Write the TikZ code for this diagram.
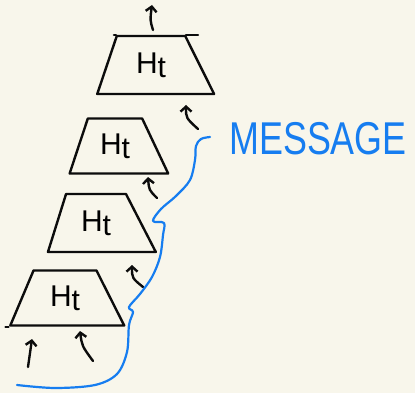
\documentclass[tikz,border=0pt]{standalone}
\usepackage{fontspec}
\setsansfont{Liberation Sans}
\usetikzlibrary{shapes.geometric,arrows.meta}
\definecolor{paper}{RGB}{248,246,235}
\definecolor{ink}{RGB}{12,12,12}
\definecolor{bluepen}{RGB}{22,125,240}
\tikzset{
  layer/.style={trapezium, trapezium stretches=true, draw=ink, line width=2.4pt,
    inner sep=0pt, line join=round, font=\sffamily\fontsize{30}{30}\selectfont},
  up/.style={draw=ink, line width=2.4pt, line cap=round,
    -{Straight Barb[length=5pt,width=11pt,line width=2.4pt]}},
  msg/.style={draw=bluepen, line width=2.2pt, line cap=round, line join=round},
  over/.style={draw=ink, line width=2.4pt, line cap=round}
}
\begin{document}
\begin{tikzpicture}[x=1pt,y=-1pt]
\fill[paper] (0,0) rectangle (415,393);
\useasboundingbox (0,0) rectangle (415,393);

\node[layer, minimum width=117pt, minimum height=58pt,
  trapezium left angle=71, trapezium right angle=63] (t1) at (151,65) {H\raisebox{-4pt}{t}};
\node[layer, minimum width=99pt, minimum height=55pt,
  trapezium left angle=68, trapezium right angle=60] (t2) at (115,146) {H\raisebox{-4pt}{t}};
\node[layer, minimum width=108pt, minimum height=58pt,
  trapezium left angle=70, trapezium right angle=59] (t3) at (96,223) {H\raisebox{-4pt}{t}};
\node[layer, minimum width=114pt, minimum height=55pt,
  trapezium left angle=66, trapezium right angle=62] (t4) at (65,298) {H\raisebox{-4pt}{t}};

% overshoot strokes of the sketch
\draw[over] (t1.top right corner) -- ++(12,0);
\draw[over] (t1.top left corner) -- ++(-2,0);
\draw[over] (t4.bottom left corner) -- ++(-3,0);

\coordinate (a0s) at (153,30);  \coordinate (a0e) at (152,5);
\coordinate (a1s) at (198,129); \coordinate (a1e) at (186,105);
\coordinate (a2s) at (157,198); \coordinate (a2e) at (148,177);
\coordinate (a3s) at (143,287); \coordinate (a3e) at (132,265);
\coordinate (a4s) at (28,367);  \coordinate (a4e) at (32,339);
\coordinate (a5s) at (93,361);  \coordinate (a5e) at (80,331);

\draw[up] (a0s) .. controls (150,20) .. (a0e);
\draw[up] (a1s) .. controls (186,118) .. (a1e);
\draw[up] (a2s) .. controls (149,190) .. (a2e);
\draw[up] (a3s) .. controls (132,278) .. (a3e);
\draw[up] (a4s) -- (a4e);
\draw[up] (a5s) .. controls (82,346) .. (a5e);

\draw[msg] plot[smooth, tension=0.55] coordinates {
  (17,385) (55,388) (95,385) (117,374) (127,352) (129,325) (133,312)
  (129,307) (140,294) (152,277) (160,257) (163,235) (164,223)
  (153,221) (161,209) (176,196) (190,180) (195,160) (196,146) (201,139) (210,137)};

\node[text=bluepen, font=\sffamily\fontsize{46}{46}\selectfont, inner sep=0pt] (msgtext)
  at (318,139) {\scalebox{0.78}[1]{MESSAGE}};
\end{tikzpicture}
\end{document}
